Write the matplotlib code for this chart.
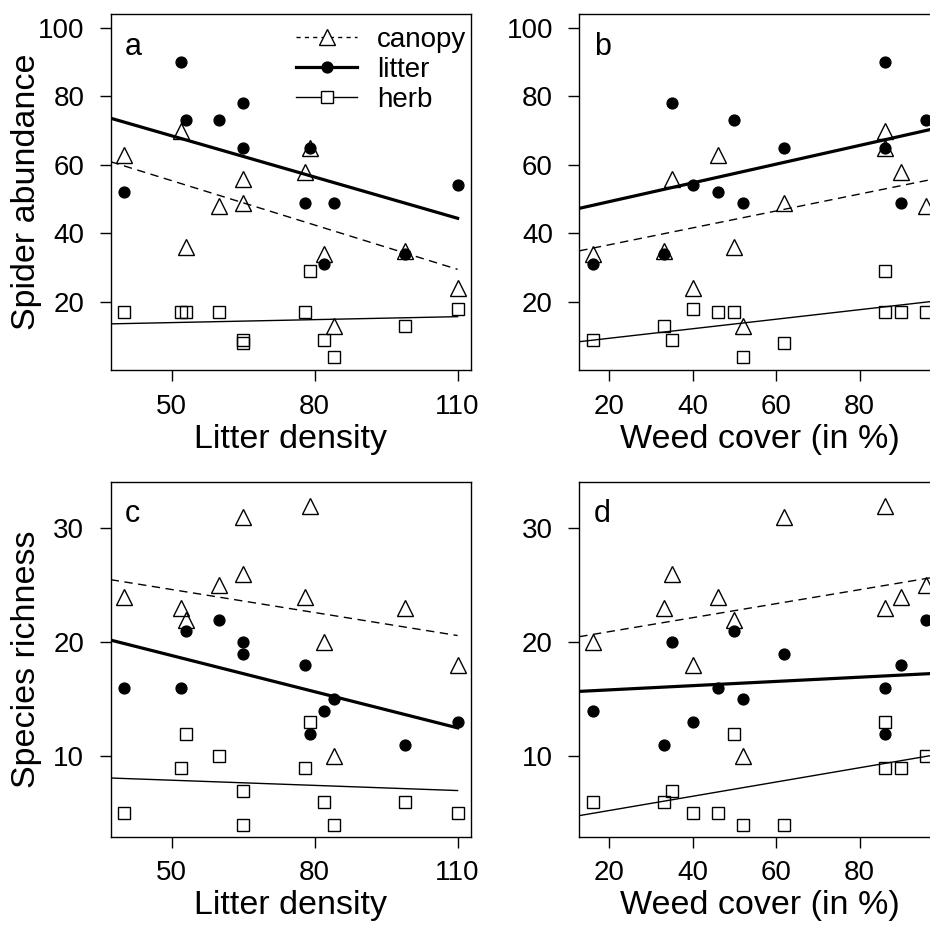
import matplotlib
matplotlib.use("Agg")
import matplotlib.pyplot as plt
from matplotlib.lines import Line2D

plt.rcParams['font.family'] = ['Liberation Sans', 'DejaVu Sans']

# ---- data (12 sites) ----
litter_density = [40, 52, 53, 60, 65, 65, 78, 79, 82, 84, 99, 110]
weed_cover = [46, 86, 50, 96, 35, 62, 90, 86, 16, 52, 33, 40]

abund_canopy = [63, 70, 36, 48, 56, 49, 58, 65, 34, 13, 35, 24]
abund_litter = [52, 90, 73, 73, 78, 65, 49, 65, 31, 49, 34, 54]
abund_herb = [17, 17, 17, 17, 9, 8, 17, 29, 9, 4, 13, 18]

rich_canopy = [24, 23, 22, 25, 26, 31, 24, 32, 20, 10, 23, 18]
rich_litter = [16, 16, 21, 22, 20, 19, 18, 12, 14, 15, 11, 13]
rich_herb = [5, 9, 12, 10, 7, 4, 9, 13, 6, 4, 6, 5]

# fitted lines (values read at the line ends)
fit_x_density = [37.2, 110]
fit_x_weed = [12.8, 99.2]
fit_abund_density = {'canopy': [60.9, 29.5], 'litter': [73.6, 44.4], 'herb': [13.6, 15.7]}
fit_abund_weed = {'canopy': [34.9, 56.2], 'litter': [47.3, 70.9], 'herb': [8.4, 20.4]}
fit_rich_density = {'canopy': [25.5, 20.6], 'litter': [20.2, 12.5], 'herb': [8.1, 7.0]}
fit_rich_weed = {'canopy': [20.5, 25.8], 'litter': [15.7, 17.3], 'herb': [4.8, 10.2]}

layers = ['canopy', 'litter', 'herb']
panel_letters = ['a', 'b', 'c', 'd']
x_labels = ['Litter density', 'Weed cover (in %)']
y_labels = ['Spider abundance', 'Species richness']

marker_style = {
    'canopy': dict(marker='^', ms=12, mfc='none', mec='black', mew=1.0, ls='none'),
    'litter': dict(marker='o', ms=7.8, mfc='black', mec='black', mew=1.0, ls='none'),
    'herb': dict(marker='s', ms=9, mfc='none', mec='black', mew=1.0, ls='none'),
}
line_style = {
    'canopy': dict(color='black', lw=1.0, dashes=(6, 4)),
    'litter': dict(color='black', lw=2.3, ls='-'),
    'herb': dict(color='black', lw=1.0, ls='-'),
}

fig = plt.figure(figsize=(9.3, 9.27), dpi=100)
positions = [
    [0.119, 0.6009, 0.3874, 0.384],
    [0.6229, 0.6009, 0.3874, 0.384],
    [0.119, 0.0974, 0.3874, 0.383],
    [0.6229, 0.0974, 0.3874, 0.383],
]

panels = [
    (litter_density, {'canopy': abund_canopy, 'litter': abund_litter, 'herb': abund_herb},
     fit_x_density, fit_abund_density, (37.2, 112.8), (0.15, 104.0), [50, 80, 110], [20, 40, 60, 80, 100]),
    (weed_cover, {'canopy': abund_canopy, 'litter': abund_litter, 'herb': abund_herb},
     fit_x_weed, fit_abund_weed, (12.8, 99.2), (0.15, 104.0), [20, 40, 60, 80], [20, 40, 60, 80, 100]),
    (litter_density, {'canopy': rich_canopy, 'litter': rich_litter, 'herb': rich_herb},
     fit_x_density, fit_rich_density, (37.2, 112.8), (2.95, 34.1), [50, 80, 110], [10, 20, 30]),
    (weed_cover, {'canopy': rich_canopy, 'litter': rich_litter, 'herb': rich_herb},
     fit_x_weed, fit_rich_weed, (12.8, 99.2), (2.95, 34.1), [20, 40, 60, 80], [10, 20, 30]),
]

for i, (xv, ys, fx, fits, xlim, ylim, xt, yt) in enumerate(panels):
    ax = fig.add_axes(positions[i])
    for k in layers:
        ax.plot(xv, ys[k], **marker_style[k])
    for k in layers:
        ax.plot(fx, fits[k], **line_style[k])
    ax.set_xlim(*xlim)
    ax.set_ylim(*ylim)
    ax.set_xticks(xt)
    ax.set_yticks(yt)
    ax.tick_params(direction='out', length=8, width=1.0, labelsize=20)
    ax.tick_params(axis='x', pad=9)
    ax.tick_params(axis='y', pad=11)
    for s in ax.spines.values():
        s.set_linewidth(1.0)
    ax.set_xlabel(x_labels[i % 2], fontsize=24.5, labelpad=3)
    if i % 2 == 0:
        ax.set_ylabel(y_labels[i // 2], fontsize=24.5)
        ax.yaxis.set_label_coords(-0.19, 0.5)
    ax.text(0.04, 0.885, panel_letters[i], transform=ax.transAxes, fontsize=22,
            ha='left', va='baseline')
    if i == 0:
        handles = [
            Line2D([], [], color='black', lw=1.0, dashes=(3, 3), marker='^', ms=11,
                   mfc='white', mec='black', mew=1.0),
            Line2D([], [], color='black', lw=2.3, marker='o', ms=7.8, mfc='black', mec='black'),
            Line2D([], [], color='black', lw=1.0, marker='s', ms=9, mfc='white', mec='black', mew=1.0),
        ]
        ax.legend(handles, layers, loc='upper left', bbox_to_anchor=(0.5, 0.98),
                  frameon=False, fontsize=20, handlelength=2.2, handletextpad=0.7,
                  labelspacing=0.15, borderpad=0.2, borderaxespad=0.0, numpoints=1)

fig.savefig('out.png', dpi=100)
